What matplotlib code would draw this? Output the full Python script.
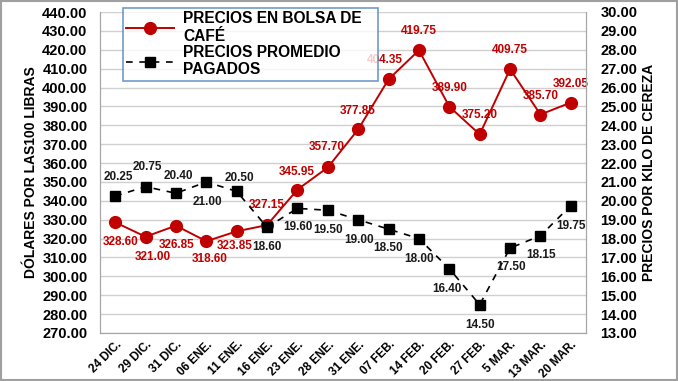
import matplotlib
matplotlib.use('Agg')
import matplotlib.pyplot as plt
import matplotlib.ticker as ticker
from matplotlib.patches import Rectangle
from matplotlib.lines import Line2D

plt.rcParams['font.family'] = ['Liberation Sans', 'DejaVu Sans']
plt.rcParams['font.weight'] = 'bold'

# data
fechas = ['24 DIC.', '29 DIC.', '31 DIC.', '06 ENE.', '11 ENE.', '16 ENE.',
          '23 ENE.', '28 ENE.', '31 ENE.', '07 FEB.', '14 FEB.', '20 FEB.',
          '27 FEB.', '5 MAR.', '13 MAR.', '20 MAR.']
bolsa = [328.60, 321.00, 326.85, 318.60, 323.85, 327.15, 345.95, 357.70,
         377.85, 404.35, 419.75, 389.90, 375.20, 409.75, 385.70, 392.05]
pagados = [20.25, 20.75, 20.40, 21.00, 20.50, 18.60, 19.60, 19.50,
           19.00, 18.50, 18.00, 16.40, 14.50, 17.50, 18.15, 19.75]

RED = '#C00000'
GRID = '#D0D0D0'
SPINE = '#A6A6A6'

# label offsets in pixels (dx, dy)
off_bolsa = [(5, -20), (7, -20), (1, -19), (3, -18), (-2, -15), (0, 20),
             (-1, 18), (-1, 20), (0, 18), (-4, 19), (0, 19), (0, 19),
             (0, 19), (0, 19), (0, 19), (0, 19)]
off_pagados = [(3, 19), (2, 20), (2, 17), (1, -20), (3, 13), (0, -20),
               (0, -19), (0, -20), (1, -20), (0, -19), (0, -20), (-2, -20),
               (0, -20), (1, -19), (1, -19), (0, -20)]

fig = plt.figure(figsize=(6.78, 3.81), dpi=100)
ax = fig.add_axes([100/678, 1 - 333/381, 486/678, 321/381])
ax2 = ax.twinx()

x = list(range(len(fechas)))

ax.plot(x, bolsa, color=RED, lw=1.4, marker='o', ms=8.5, zorder=3)
ax2.plot(x, pagados, color='black', lw=1.2, ls=(0, (4, 4)), marker='s',
         ms=7.2, zorder=3)

for i, v in enumerate(bolsa):
    dx, dy = off_bolsa[i]
    ax.annotate(f'{v:.2f}', (i, v), xytext=(dx, dy), textcoords='offset pixels',
                ha='center', va='center', fontsize=8.5, color=RED,
                fontweight='bold')
for i, v in enumerate(pagados):
    dx, dy = off_pagados[i]
    ax2.annotate(f'{v:.2f}', (i, v), xytext=(dx, dy), textcoords='offset pixels',
                 ha='center', va='center', fontsize=8.5, color='#1A1A1A',
                 fontweight='bold')

ax.set_xlim(-0.5, len(fechas) - 0.5)
ax.set_ylim(270, 440)
ax2.set_ylim(13, 30)
ax.yaxis.set_major_locator(ticker.MultipleLocator(10))
ax2.yaxis.set_major_locator(ticker.MultipleLocator(1))
ax.yaxis.set_major_formatter(ticker.FormatStrFormatter('%.2f'))
ax2.yaxis.set_major_formatter(ticker.FormatStrFormatter('%.2f'))
ax.grid(axis='y', color=GRID, lw=1)
ax.set_axisbelow(True)

ax.set_xticks(x)
ax.set_xticklabels(fechas, rotation=45, ha='right', rotation_mode='anchor',
                   fontsize=8.5, fontweight='bold')
ax.tick_params(axis='x', length=0, pad=4)
ax.tick_params(axis='y', length=0, labelsize=10.5, pad=9)
ax2.tick_params(axis='y', length=0, labelsize=10.5, pad=10.5)

for a in (ax, ax2):
    for s in a.spines.values():
        s.set_color(SPINE)
    a.spines['top'].set_visible(False)

ax.set_ylabel('DÓLARES POR LAS100 LIBRAS', fontsize=10, fontweight='bold',
              labelpad=3)
ax2.set_ylabel('PRECIOS POR KILO DE CEREZA', fontsize=10, fontweight='bold',
               labelpad=3)

handles = [Line2D([], [], color=RED, lw=1.4, marker='o', ms=8.5),
           Line2D([], [], color='black', lw=1.2, ls=(0, (4, 4)), marker='s',
                  ms=7.2)]
leg = fig.legend(handles, ['PRECIOS EN BOLSA DE\nCAFÉ', 'PRECIOS PROMEDIO\nPAGADOS'],
                 loc='upper left',
                 bbox_to_anchor=(123/678, 1 - 80/381, 255/678, 72/381),
                 mode='expand',
                 prop={'size': 11.2, 'weight': 'bold'}, frameon=True,
                 fancybox=False, borderpad=0.2, labelspacing=0.1,
                 handlelength=3.1, handletextpad=0.55, borderaxespad=0)
leg.get_frame().set_edgecolor('#4F81BD')
leg.get_frame().set_linewidth(1.2)
leg.set_zorder(10)

# thin grey frame around the picture
fig.patches.append(Rectangle((0.002, 0.003), 0.996, 0.994, transform=fig.transFigure,
                             fill=False, edgecolor='#A0A0A0', lw=1.5))

fig.savefig('out.png', dpi=100)
